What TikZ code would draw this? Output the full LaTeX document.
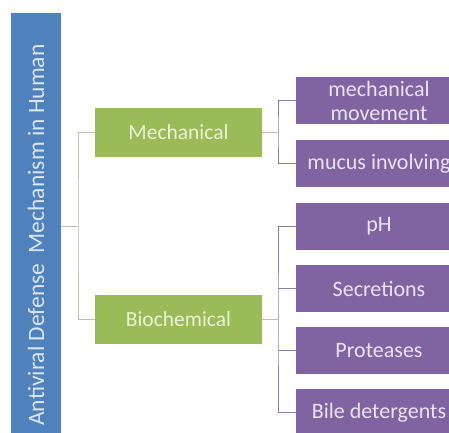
\documentclass[tikz,border=0pt]{standalone}
\usepackage{fontspec}
\setmainfont{Carlito}
\definecolor{bbar}{HTML}{4F81BD}
\definecolor{gbox}{HTML}{9BBB59}
\definecolor{pbox}{HTML}{8064A2}
\definecolor{btext}{HTML}{DCE6F2}
\definecolor{gtext}{HTML}{EAF3D6}
\definecolor{ptext}{HTML}{EAE3F2}
\definecolor{gline}{HTML}{B8C4A4}
\definecolor{pline}{HTML}{8A7EA6}
\tikzset{
  px/.style={x=1pt,y=1pt},
  titlebox/.style={fill=bbar, draw=none, text=btext, rotate=90, minimum width=444pt, minimum height=50pt, inner sep=0pt, font=\fontsize{23.5}{26}\selectfont},
  catbox/.style={fill=gbox, draw=none, text=gtext, minimum width=167pt, minimum height=49pt, inner sep=0pt, font=\fontsize{21.5}{24}\selectfont},
  leafbox/.style={fill=pbox, draw=none, text=ptext, minimum width=166pt, minimum height=47pt, inner sep=0pt, align=center, font=\fontsize{22}{24}\selectfont},
  glink/.style={draw=gline, line width=0.9pt},
  plink/.style={draw=pline, line width=0.9pt}
}
\begin{document}
\begin{tikzpicture}[px]
\useasboundingbox (0,0) rectangle (449,-432);
\clip (0,0) rectangle (449,-432);
\fill[white] (0,0) rectangle (449,-432);
\node[titlebox] (title) at (36,-235) {Antiviral Defense\ \ Mechanism in Human};
\node[catbox] (mech) at (178.5,-132.5) {Mechanical};
\node[catbox] (bio) at (178.5,-319.5) {Biochemical};
\node[leafbox] (p1) at (379,-100.5) {mechanical\\movement};
\node[leafbox] (p2) at (379,-163.5) {mucus involving};
\node[leafbox] (p3) at (379,-226.5) {pH};
\node[leafbox] (p4) at (379,-288.5) {Secretions};
\node[leafbox] (p5) at (379,-350.5) {Proteases};
\node[leafbox] (p6) at (379,-412.5) {Bile detergents};
\coordinate (j0) at (78,-226);
\coordinate (j1) at (278,-132.5);
\coordinate (j2) at (278,-319.5);
% title to categories
\draw[glink] (j0 -| title.south) -- (j0);
\draw[glink] (mech.west) -| (j0) |- (bio.west);
% mechanical
\draw[glink] (mech.east) -- (j1);
\draw[plink] (p1.west) -| (j1) |- (p2.west);
% biochemical
\draw[glink] (bio.east) -- (j2);
\draw[plink] (p3.west) -| (j2) |- (p6.west);
\draw[plink] (p4.west) -- (p4.west -| j2);
\draw[plink] (p5.west) -- (p5.west -| j2);
\end{tikzpicture}
\end{document}
